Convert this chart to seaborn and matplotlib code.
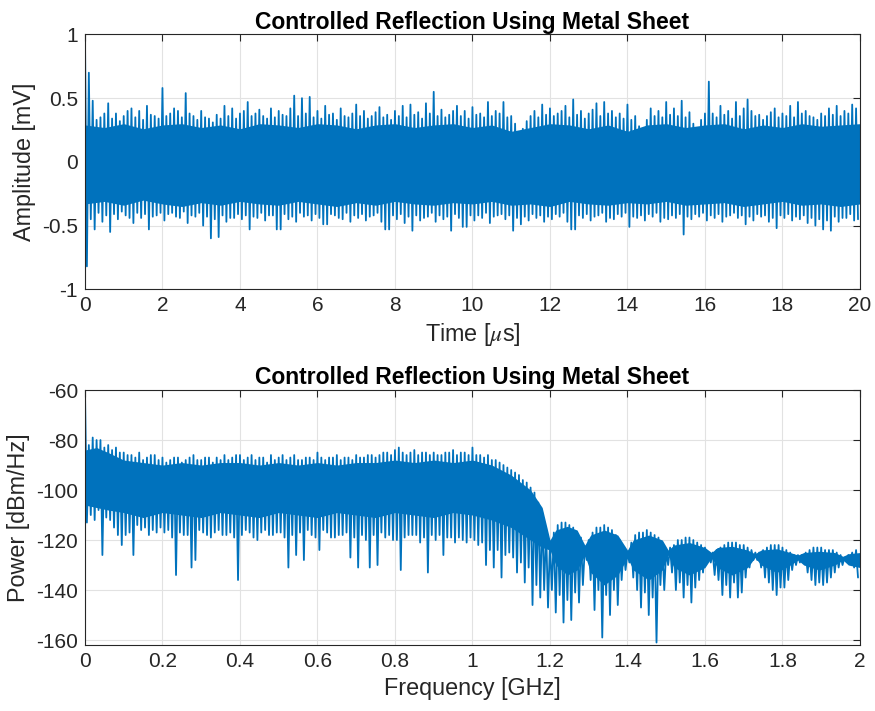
import numpy as np
import pandas as pd
import matplotlib
matplotlib.use("Agg")
import matplotlib.pyplot as plt
import seaborn as sns

# ---------------- data ----------------
# Top panel: time-domain signal, peak samples every 0.1 us (t = 0.0 .. 19.9)
# and trough samples every 0.1 us (t = 0.05 .. 19.95)
time_step = 0.1
amp_upper = [
    1.00, 0.70, 0.48, 0.33, 0.35, 0.38, 0.46, 0.34, 0.38, 0.32,
    0.36, 0.40, 0.42, 0.35, 0.40, 0.33, 0.44, 0.37, 0.36, 0.34,
    0.58, 0.36, 0.38, 0.42, 0.40, 0.35, 0.54, 0.38, 0.36, 0.33,
    0.40, 0.35, 0.34, 0.31, 0.37, 0.34, 0.44, 0.36, 0.42, 0.34,
    0.38, 0.40, 0.47, 0.36, 0.38, 0.41, 0.36, 0.34, 0.42, 0.35,
    0.40, 0.37, 0.36, 0.42, 0.52, 0.36, 0.50, 0.38, 0.51, 0.35,
    0.40, 0.34, 0.44, 0.37, 0.38, 0.33, 0.42, 0.36, 0.35, 0.38,
    0.45, 0.36, 0.40, 0.34, 0.36, 0.39, 0.43, 0.35, 0.37, 0.33,
    0.40, 0.36, 0.44, 0.35, 0.45, 0.37, 0.39, 0.34, 0.46, 0.38,
    0.55, 0.36, 0.41, 0.35, 0.37, 0.40, 0.44, 0.36, 0.40, 0.34,
    0.43, 0.37, 0.38, 0.35, 0.47, 0.36, 0.40, 0.38, 0.47, 0.35,
    0.36, 0.30, 0.22, 0.26, 0.32, 0.36, 0.40, 0.35, 0.45, 0.37,
    0.42, 0.36, 0.38, 0.40, 0.44, 0.35, 0.49, 0.37, 0.40, 0.34,
    0.38, 0.41, 0.46, 0.36, 0.47, 0.38, 0.40, 0.35, 0.38, 0.34,
    0.45, 0.33, 0.36, 0.28, 0.22, 0.33, 0.42, 0.36, 0.40, 0.35,
    0.47, 0.37, 0.42, 0.36, 0.48, 0.35, 0.39, 0.30, 0.25, 0.33,
    0.38, 0.63, 0.38, 0.35, 0.44, 0.37, 0.40, 0.34, 0.47, 0.36,
    0.42, 0.49, 0.40, 0.36, 0.37, 0.33, 0.36, 0.39, 0.42, 0.35,
    0.38, 0.36, 0.44, 0.35, 0.47, 0.38, 0.40, 0.36, 0.35, 0.33,
    0.38, 0.36, 0.42, 0.37, 0.44, 0.36, 0.40, 0.38, 0.45, 0.42]
amp_lower = [
    -0.82, -0.45, -0.53, -0.40, -0.47, -0.42, -0.55, -0.41, -0.45, -0.39,
    -0.42, -0.44, -0.48, -0.40, -0.44, -0.41, -0.53, -0.43, -0.42, -0.40,
    -0.46, -0.41, -0.40, -0.43, -0.44, -0.39, -0.48, -0.42, -0.43, -0.40,
    -0.50, -0.43, -0.60, -0.45, -0.59, -0.42, -0.47, -0.44, -0.44, -0.41,
    -0.45, -0.42, -0.53, -0.43, -0.44, -0.40, -0.46, -0.42, -0.42, -0.53,
    -0.53, -0.41, -0.45, -0.43, -0.47, -0.40, -0.43, -0.42, -0.46, -0.41,
    -0.44, -0.49, -0.49, -0.41, -0.42, -0.44, -0.45, -0.40, -0.47, -0.42,
    -0.44, -0.41, -0.46, -0.43, -0.42, -0.40, -0.47, -0.53, -0.53, -0.42,
    -0.45, -0.41, -0.48, -0.43, -0.54, -0.42, -0.46, -0.44, -0.43, -0.40,
    -0.47, -0.42, -0.45, -0.43, -0.54, -0.41, -0.44, -0.51, -0.51, -0.42,
    -0.46, -0.42, -0.44, -0.40, -0.48, -0.43, -0.42, -0.41, -0.45, -0.42,
    -0.54, -0.44, -0.49, -0.43, -0.46, -0.41, -0.44, -0.42, -0.47, -0.43,
    -0.45, -0.41, -0.43, -0.40, -0.47, -0.53, -0.53, -0.42, -0.44, -0.41,
    -0.46, -0.43, -0.42, -0.40, -0.47, -0.44, -0.45, -0.41, -0.43, -0.40,
    -0.51, -0.43, -0.44, -0.42, -0.46, -0.41, -0.43, -0.40, -0.47, -0.44,
    -0.45, -0.42, -0.44, -0.41, -0.57, -0.43, -0.45, -0.41, -0.43, -0.40,
    -0.46, -0.42, -0.44, -0.41, -0.47, -0.43, -0.42, -0.40, -0.44, -0.42,
    -0.49, -0.43, -0.46, -0.41, -0.43, -0.42, -0.47, -0.44, -0.52, -0.42,
    -0.44, -0.41, -0.46, -0.43, -0.45, -0.42, -0.48, -0.44, -0.50, -0.45,
    -0.53, -0.46, -0.54, -0.43, -0.47, -0.44, -0.44, -0.41, -0.46, -0.45]
# solid core of the time-domain trace (every 0.5 us)
amp_core_step = 0.5
amp_core_hi = [0.29, 0.27, 0.30, 0.26, 0.29, 0.30, 0.27, 0.29, 0.26, 0.30,
               0.29, 0.27, 0.30, 0.29, 0.26, 0.29, 0.30, 0.27, 0.29, 0.30,
               0.27, 0.29, 0.24, 0.27, 0.30, 0.29, 0.26, 0.29, 0.24, 0.29,
               0.30, 0.27, 0.29, 0.30, 0.26, 0.29, 0.27, 0.30, 0.28, 0.29,
               0.30]
amp_core_lo = [-0.33, -0.31, -0.34, -0.30, -0.33, -0.35, -0.32, -0.34, -0.31, -0.33,
               -0.34, -0.31, -0.33, -0.35, -0.32, -0.34, -0.31, -0.33, -0.34, -0.32,
               -0.33, -0.31, -0.34, -0.33, -0.35, -0.31, -0.33, -0.34, -0.32, -0.33,
               -0.31, -0.34, -0.33, -0.32, -0.35, -0.33, -0.31, -0.34, -0.33, -0.35,
               -0.33]

# Bottom panel: power spectrum, peak samples every 0.01 GHz (f = 0.00 .. 1.99)
# and trough samples every 0.01 GHz (f = 0.005 .. 1.995)
freq_step = 0.01
pow_upper = [
    -60, -82, -79, -80, -80, -83, -82, -84, -83, -85,
    -85, -86, -86, -87, -85, -88, -87, -86, -86, -88,
    -87, -89, -88, -87, -87, -89, -88, -87, -86, -88,
    -88, -87, -87, -89, -87, -88, -86, -88, -87, -86,
    -86, -88, -87, -86, -88, -87, -87, -89, -86, -88,
    -87, -86, -88, -87, -86, -88, -88, -87, -87, -88,
    -85, -87, -88, -87, -87, -86, -88, -87, -87, -88,
    -86, -87, -87, -86, -86, -87, -86, -85, -85, -86,
    -84, -83, -85, -86, -85, -84, -86, -85, -85, -86,
    -85, -86, -86, -85, -85, -84, -86, -85, -85, -86,
    -83, -86, -86, -87, -86, -88, -88, -89, -90, -91,
    -92, -93, -94, -96, -97, -99, -101, -105, -109, -115,
    -121, -117, -114, -113, -113, -114, -115, -117, -119, -123,
    -120, -117, -115, -115, -114, -115, -116, -118, -120, -123,
    -125, -121, -118, -117, -117, -116, -117, -118, -119, -122,
    -124, -123, -122, -120, -120, -119, -119, -120, -121, -122,
    -123, -125, -125, -124, -123, -122, -121, -121, -121, -122,
    -122, -123, -124, -125, -125, -124, -123, -122, -122, -122,
    -123, -124, -125, -126, -126, -126, -125, -124, -123, -123,
    -123, -124, -124, -124, -125, -126, -127, -126, -125, -124]
pow_lower = [
    -113, -110, -112, -108, -126, -111, -112, -115, -118, -122,
    -118, -117, -126, -114, -116, -115, -118, -116, -117, -115,
    -117, -116, -119, -134, -117, -118, -118, -131, -128, -116,
    -117, -118, -119, -117, -116, -118, -118, -117, -119, -136,
    -118, -116, -117, -119, -120, -117, -116, -118, -118, -117,
    -117, -119, -131, -118, -126, -117, -128, -116, -118, -119,
    -124, -116, -117, -119, -119, -118, -118, -117, -127, -119,
    -131, -118, -120, -131, -118, -130, -117, -119, -118, -120,
    -120, -132, -119, -118, -118, -118, -121, -119, -133, -118,
    -120, -118, -126, -119, -119, -121, -119, -120, -121, -119,
    -120, -122, -121, -130, -124, -131, -124, -135, -126, -125,
    -127, -133, -129, -137, -131, -146, -138, -143, -140, -147,
    -140, -149, -142, -153, -144, -152, -141, -145, -138, -128,
    -136, -148, -140, -159, -142, -150, -140, -146, -136, -132,
    -129, -135, -140, -147, -141, -150, -143, -161, -138, -140,
    -130, -133, -140, -137, -143, -138, -145, -139, -136, -133,
    -129, -129, -134, -136, -142, -138, -143, -137, -143, -141,
    -135, -131, -128, -128, -131, -135, -137, -140, -142, -139,
    -139, -136, -132, -130, -129, -129, -133, -136, -138, -137,
    -138, -137, -135, -133, -131, -130, -128, -128, -131, -135]
# solid core of the spectrum trace
pow_core_f = [0.0, 0.03, 0.06, 0.1, 0.15, 0.2, 0.25, 0.3, 0.35, 0.4, 0.45, 0.5,
              0.55, 0.6, 0.65, 0.7, 0.75, 0.8, 0.85, 0.9, 0.95, 1.0,
              1.05, 1.1, 1.15, 1.18,
              1.20, 1.215, 1.245, 1.27, 1.29, 1.305, 1.34, 1.375,
              1.40, 1.415, 1.455, 1.49, 1.505, 1.52, 1.56, 1.60,
              1.617, 1.632, 1.67, 1.71, 1.729, 1.745, 1.785, 1.82,
              1.84, 1.855, 1.895, 1.935, 1.956, 1.97, 2.0]
pow_core_hi = [-84, -83, -85, -88, -89, -90, -89, -90, -89, -89, -90, -89,
               -90, -89, -90, -89, -89, -88, -89, -88, -89, -88,
               -90, -94, -100, -107,
               -120, -116, -114.5, -116, -122, -118, -116, -118,
               -124, -120, -118, -120, -124, -122, -121, -123,
               -125, -123, -122.5, -124, -125.5, -124, -123.5, -125,
               -126, -125, -124.5, -125, -126.5, -125.5, -125]
pow_core_lo = [-106, -107, -108, -109, -111, -109, -110, -111, -109, -110, -111, -109,
               -110, -111, -109, -110, -111, -109, -110, -111, -109, -110,
               -112, -115, -120, -123,
               -124, -130, -134, -132, -126, -133, -138, -134,
               -127, -132, -136, -132, -126, -131, -134, -131,
               -127, -131, -134, -131, -127, -130, -133, -130,
               -128, -130, -132, -130, -128, -130, -131]

# ---------------- style ----------------
sns.set_theme(style="white")
plt.rcParams["font.family"] = ["Liberation Sans", "DejaVu Sans"]
plt.rcParams["axes.unicode_minus"] = False
plt.rcParams["mathtext.fontset"] = "stix"

BLUE = "#0072BD"
DARK = "#262626"
GRID = "#e2e2e2"

fig = plt.figure(figsize=(8.75, 7.11), dpi=100)
ax1 = fig.add_axes([0.0971, 0.5931, 0.8857, 0.3584])
ax2 = fig.add_axes([0.0971, 0.0928, 0.8857, 0.3586])


def draw_trace(ax, step, upper, lower, core_x, core_hi, core_lo):
    n = len(upper)
    x_up = np.arange(n) * step
    x_lo = x_up + step / 2
    df = pd.DataFrame({
        "x": np.column_stack([x_up, x_lo]).ravel(),
        "y": np.column_stack([upper, lower]).ravel(),
    })
    ax.fill_between(core_x, core_lo, core_hi, color=BLUE, lw=0, zorder=2)
    sns.lineplot(data=df, x="x", y="y", ax=ax, color=BLUE, lw=1.3,
                 sort=False, estimator=None, zorder=3)


def style_axes(ax, xlim, ylim, xticks, xlabels, yticks, ylabels, xlabel, ylabel):
    ax.set_xlim(*xlim)
    ax.set_ylim(*ylim)
    ax.set_xticks(xticks)
    ax.set_xticklabels(xlabels)
    ax.set_yticks(yticks)
    ax.set_yticklabels(ylabels)
    ax.set_axisbelow(True)
    ax.grid(True, color=GRID, lw=0.8)
    ax.tick_params(direction="in", top=True, right=True, length=5, width=0.8,
                   colors=DARK, labelsize=15, pad=5)
    for s in ax.spines.values():
        s.set_color(DARK)
        s.set_linewidth(0.8)
        s.set_visible(True)
        s.set_zorder(5)
    ax.set_xlabel(xlabel, fontsize=16.8, color=DARK, labelpad=4)
    ax.set_ylabel(ylabel, fontsize=16.8, color=DARK, labelpad=4)
    ax.set_title("Controlled Reflection Using Metal Sheet", fontsize=16.5,
                 fontweight="bold", color="black", pad=4)


amp_core_t = np.arange(len(amp_core_hi)) * amp_core_step
draw_trace(ax1, time_step, amp_upper, amp_lower, amp_core_t, amp_core_hi, amp_core_lo)
style_axes(ax1, (0, 20), (-1, 1),
           list(range(0, 21, 2)), [str(v) for v in range(0, 21, 2)],
           [-1, -0.5, 0, 0.5, 1], ["-1", "-0.5", "0", "0.5", "1"],
           r"Time [$\mu$s]", "Amplitude [mV]")

draw_trace(ax2, freq_step, pow_upper, pow_lower, pow_core_f, pow_core_hi, pow_core_lo)
style_axes(ax2, (0, 2), (-162, -60),
           [0, 0.2, 0.4, 0.6, 0.8, 1, 1.2, 1.4, 1.6, 1.8, 2],
           ["0", "0.2", "0.4", "0.6", "0.8", "1", "1.2", "1.4", "1.6", "1.8", "2"],
           [-160, -140, -120, -100, -80, -60],
           ["-160", "-140", "-120", "-100", "-80", "-60"],
           "Frequency [GHz]", "Power [dBm/Hz]")

fig.savefig("out.png", dpi=100)
